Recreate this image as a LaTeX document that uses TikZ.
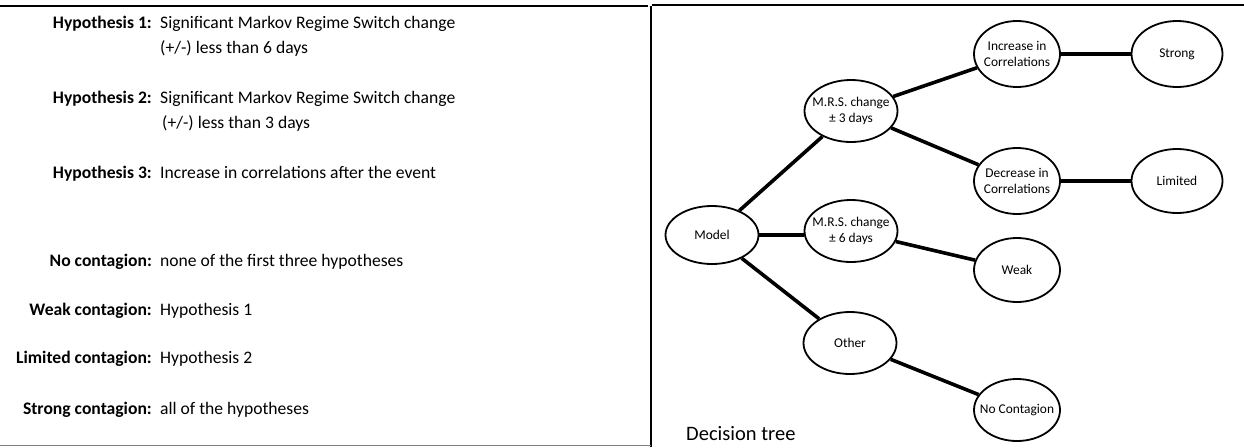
\documentclass[tikz,border=0pt]{standalone}
\usepackage{fontspec}
\setmainfont{Carlito}
\usetikzlibrary{shapes.geometric}
\begin{document}
\begin{tikzpicture}[x=1pt,y=-1pt,
  lbl/.style={anchor=base east,font=\fontsize{17.6}{20}\selectfont\bfseries,inner sep=0},
  val/.style={anchor=base west,font=\fontsize{17.6}{20}\selectfont,inner sep=0},
  tn/.style={draw,ellipse,line width=1.8pt,inner sep=0,minimum width=#1,minimum height=62pt},
  tn/.default=93pt,
  tl/.style={font=\fontsize{13.4}{16.5}\selectfont,align=center,inner sep=0},
  edge/.style={line width=3.6pt}]
\useasboundingbox (0,0) rectangle (1244,447);
% panel borders
\draw[line width=2.6pt] (0,6) -- (648,6);
\draw[line width=1.6pt] (651,6) -- (651,447);
\draw[line width=0.8pt,gray] (0,445.5) -- (651,445.5);
\draw[line width=2pt] (652,5) -- (1244,5);
% left text
\node[lbl] (h1) at (152,28) {Hypothesis 1:};
\node[val] (h1a) at (160,28) {Significant Markov Regime Switch change};
\node[val] (h1b) at (160,53) {(+/-) less than 6 days};
\node[lbl] (h2) at (152,103) {Hypothesis 2:};
\node[val] (h2a) at (160,103) {Significant Markov Regime Switch change};
\node[val] (h2b) at (162,128) {(+/-) less than 3 days};
\node[lbl] (h3) at (152,178) {Hypothesis 3:};
\node[val] (h3a) at (160,178) {Increase in correlations after the event};
\node[lbl] (c0) at (152,266) {No contagion:};
\node[val] (c0a) at (160,266) {none of the first three hypotheses};
\node[lbl] (c1) at (152,315) {Weak contagion:};
\node[val] (c1a) at (160,315) {Hypothesis 1};
\node[lbl] (c2) at (152,363) {Limited contagion:};
\node[val] (c2a) at (160,363) {Hypothesis 2};
\node[lbl] (c3) at (152,414) {Strong contagion:};
\node[val] (c3a) at (160,414) {all of the hypotheses};
% tree
\node[tn,minimum height=58pt] (model) at (712,235) {};
\node[tl] at (model) {Model};
\node[tn] (m3) at (851,111) {};
\node[tl] at (m3) {M.R.S. change\\± 3 days};
\node[tn] (m6) at (851,231) {};
\node[tl] at (m6) {M.R.S. change\\± 6 days};
\node[tn] (oth) at (850,343) {};
\node[tl] at (oth) {Other};
\node[tn=86pt,minimum height=66pt] (inc) at (1017,54) {};
\node[tl] at (inc) {Increase in\\Correlations};
\node[tn=86pt,minimum height=66pt] (dec) at (1017,181) {};
\node[tl] at (dec) {Decrease in\\Correlations};
\node[tn=86pt,minimum height=64pt] (weak) at (1017,270) {};
\node[tl] at (weak) {Weak};
\node[tn=86pt,minimum height=62pt] (noc) at (1017,410) {};
\node[tl] at (noc) {No Contagion};
\node[tn=91pt,minimum height=66pt] (str) at (1177,54) {};
\node[tl] at (str) {Strong};
\node[tn=91pt,minimum height=64pt] (lim) at (1177,181) {};
\node[tl] at (lim) {Limited};
\draw[edge] (model) -- (m3);
\draw[edge] (model.east) -- (m6.west |- model.east);
\draw[edge] (model) -- (oth);
\draw[edge] (m3) -- (inc);
\draw[edge] (m3) -- (dec);
\draw[edge] (m6) -- (weak);
\draw[edge] (oth) -- (noc);
\draw[edge] (inc) -- (str);
\draw[edge] (dec) -- (lim);
\node[anchor=base west,inner sep=0,font=\fontsize{20.5}{24}\selectfont] (dt) at (686,440) {Decision tree};
\end{tikzpicture}
\end{document}
